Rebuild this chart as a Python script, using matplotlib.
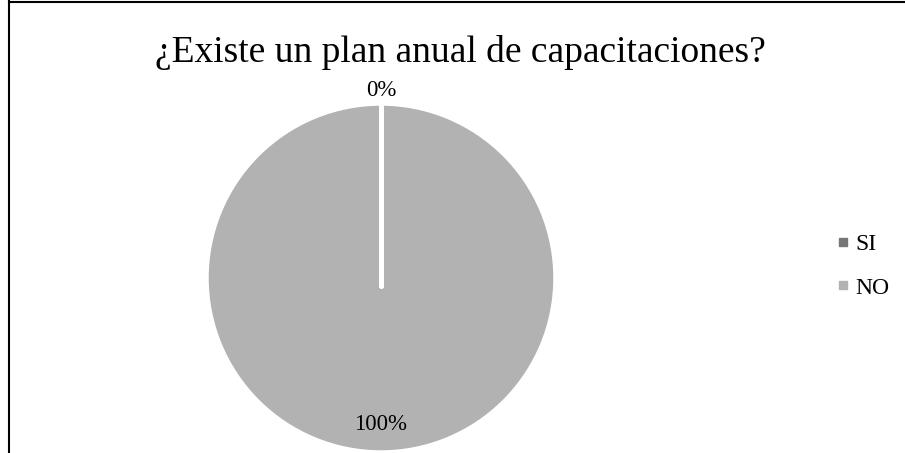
import numpy as np
import matplotlib.pyplot as plt
from matplotlib.lines import Line2D

labels = ['SI', 'NO']
values = [0, 100]
colors = ['#767676', '#b2b2b2']
title = '¿Existe un plan anual de capacitaciones?'

plt.rcParams['font.family'] = ['Liberation Serif', 'DejaVu Serif']

W, H = 905, 453
fig = plt.figure(figsize=(W / 100, H / 100), dpi=100)
ax = fig.add_axes([0, 0, 1, 1])
ax.set_xlim(0, W)
ax.set_ylim(0, H)
ax.set_aspect('equal')
ax.axis('off')

cx, cy, r = 381, H - 278, 174
wedges, texts, autotexts = ax.pie(
    values, colors=colors, startangle=90, counterclock=False,
    center=(cx, cy), radius=r, autopct='%1.0f%%',
    wedgeprops=dict(edgecolor='white', linewidth=2.5),
    textprops=dict(fontsize=16.5, color='#000000'))
ax.set_xlim(0, W)
ax.set_ylim(0, H)

# slice boundaries as white separators (the empty slice has no area to stroke)
for w in wedges:
    a = np.deg2rad(w.theta1)
    ax.plot([cx, cx + r * np.cos(a)], [cy - 8, cy + r * np.sin(a)],
            color='white', linewidth=3.5, solid_capstyle='round', zorder=3)

# place value labels: small slice outside, large slice inside
dists = [1.08, 0.84]
for w, t, d in zip(wedges, autotexts, dists):
    ang = np.deg2rad((w.theta1 + w.theta2) / 2)
    t.set_position((cx + d * r * np.cos(ang), cy + d * r * np.sin(ang)))
    t.set_ha('center')
    t.set_va('center')
    t.set_zorder(4)

fig.text(460 / W, 1 - 52 / H, title, ha='center', va='center', fontsize=27)

handles = [Line2D([], [], marker='s', linestyle='none', markersize=5.5,
                  markerfacecolor=c, markeredgecolor=c) for c in colors]
fig.legend(handles, labels, loc='center left', bbox_to_anchor=(819 / W, 1 - 266 / H),
           frameon=False, fontsize=17, handletextpad=0.05, labelspacing=0.95,
           handlelength=1.0, borderpad=0)

# chart frame (top and left edges)
fig.add_artist(Line2D([9 / W, 9 / W], [0, 1 - 1 / H], transform=fig.transFigure,
                      color='black', linewidth=1.5))
fig.add_artist(Line2D([9 / W, 1], [1 - 1.5 / H, 1 - 1.5 / H], transform=fig.transFigure,
                      color='black', linewidth=1.5))

fig.savefig('out.png', dpi=100)
